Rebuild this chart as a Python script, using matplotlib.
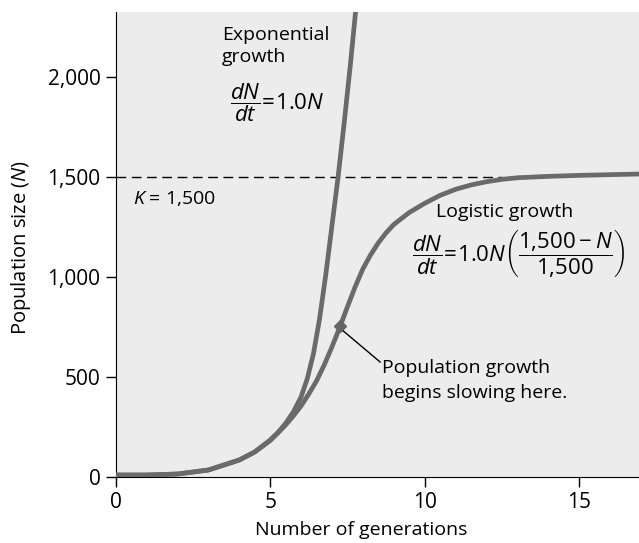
import numpy as np
import matplotlib
matplotlib.use("Agg")
from matplotlib import pyplot as plt

# values
gen_exp = [0, 1, 2, 3, 4, 4.5, 5, 5.25, 5.5, 5.75, 6.0, 6.2, 6.4, 6.6, 6.8, 7.0, 7.2,
           7.4, 7.6, 7.8]
pop_exp = [10, 10, 15, 35, 85, 125, 185, 222, 268, 325, 400, 490, 615, 790, 1010, 1255,
           1500, 1775, 2065, 2380]

gen_log = [0, 1, 2, 3, 4, 4.5, 5, 5.25, 5.5, 5.75, 6, 6.25, 6.5, 6.75, 7, 7.27, 7.5, 7.75,
           8, 8.25, 8.5, 8.75, 9, 9.5, 10, 10.5, 11, 11.5, 12, 12.5, 13, 14, 15, 17]
pop_log = [10, 10, 15, 35, 85, 125, 182, 220, 260, 305, 355, 415, 480, 560, 650, 755, 850,
           950, 1040, 1110, 1170, 1220, 1262, 1322, 1368, 1408, 1438, 1460, 1476, 1488,
           1496, 1503, 1508, 1515]

carrying_capacity = 1500
slow_point = (7.27, 755)

x_ticks = [0, 5, 10, 15]
y_ticks = [0, 500, 1000, 1500, 2000]
y_tick_labels = ["0", "500", "1,000", "1,500", "2,000"]

plt.rcParams['font.family'] = ['Open Sans', 'DejaVu Sans']
plt.rcParams['mathtext.fontset'] = 'custom'
plt.rcParams['mathtext.rm'] = 'Open Sans'
plt.rcParams['mathtext.it'] = 'Open Sans:italic'
plt.rcParams['font.size'] = 14

fig = plt.figure(figsize=(6.39, 5.43), dpi=100)
ax = fig.add_axes([0.181, 0.1215, 0.819, 0.8565])
ax.set_facecolor('#ececec')

ax.plot([0, 12.5], [carrying_capacity, carrying_capacity], color='black', lw=1.0,
        dashes=(7, 4), zorder=2)
ax.plot(gen_exp, pop_exp, color='#6a6a6a', lw=3.4, solid_capstyle='butt',
        solid_joinstyle='round', zorder=3)
ax.plot(gen_log, pop_log, color='#6a6a6a', lw=3.4, solid_joinstyle='round', zorder=3)
ax.plot(*slow_point, marker='D', ms=6, color='#666666', zorder=4)
ax.plot([slow_point[0] + 0.1, 8.56], [slow_point[1] - 25, 575], color='black', lw=1.0, zorder=4)

ax.text(3.45, 2185, "Exponential", ha='left', va='baseline')
ax.text(3.45, 2075, "growth", ha='left', va='baseline')
ax.text(3.71, 1870, r"$\dfrac{dN}{dt}\!=\!1.0N$", ha='left', va='center', fontsize=16)

ax.text(10.37, 1300, "Logistic growth", ha='left', va='baseline')
ax.text(9.6, 1115, r"$\dfrac{dN}{dt}\!=\!1.0N\left(\dfrac{1{,}500-N}{1{,}500}\right)$",
        ha='left', va='center', fontsize=16)

ax.text(0.57, 1365, r"$K$ = 1,500", ha='left', va='baseline')

ax.text(8.62, 520, "Population growth", ha='left', va='baseline')
ax.text(8.62, 395, "begins slowing here.", ha='left', va='baseline')

ax.set_xlim(0, 16.94)
ax.set_ylim(0, 2325)
ax.set_xticks(x_ticks)
ax.set_yticks(y_ticks)
ax.set_yticklabels(y_tick_labels)
ax.tick_params(direction='out', length=7, width=1, pad=4, labelsize=15)
ax.spines['top'].set_visible(False)
ax.spines['right'].set_visible(False)

ax.set_xlabel("Number of generations")
ax.xaxis.set_label_coords(0.469, -0.095)
ax.set_ylabel(r"Population size ($N$)", fontsize=14.5)
ax.yaxis.set_label_coords(-0.158, 0.494)

fig.savefig("out.png", dpi=100)
